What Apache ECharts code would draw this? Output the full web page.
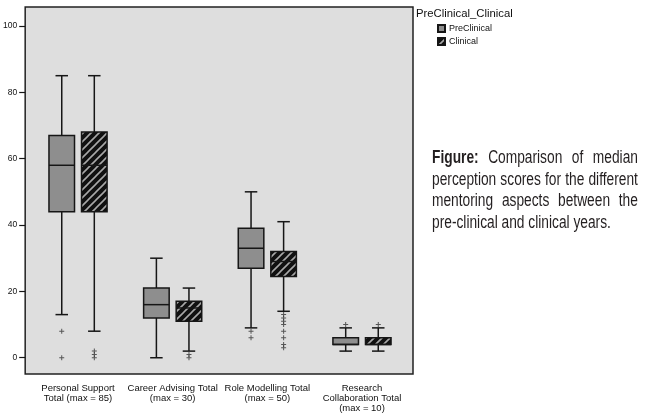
<!DOCTYPE html>
<html>
<head>
<meta charset="utf-8">
<title>Mentoring perception scores</title>
<script src="https://cdn.jsdelivr.net/npm/echarts@6/dist/echarts.min.js"></script>
<style>
html,body{margin:0;padding:0;background:#fff;}
#wrap{position:relative;width:650px;height:418px;overflow:hidden;}
#myChart{width:650px;height:418px;}
/* condensed look: regular face squeezed horizontally */
.caption{position:absolute;left:432px;top:147px;width:262px;transform:scaleX(0.786);transform-origin:0 0;
    font-family:"Liberation Sans",Arial,sans-serif;font-size:17.5px;line-height:21.7px;color:#231f20;}
.caption div{text-align:justify;text-align-last:justify;white-space:nowrap;}
.caption div.last{text-align:left;text-align-last:left;}
</style>
</head>
<body>
<div id="wrap">
    <div id="myChart"></div>
    <div class="caption">
        <div><b>Figure:</b> Comparison of median</div>
        <div>perception scores for the different</div>
        <div>mentoring aspects between the</div>
        <div class="last">pre-clinical and clinical years.</div>
    </div>
</div>
<script>
let categories = [
    'Personal Support\nTotal (max = 85)',
    'Career Advising Total\n(max = 30)',
    'Role Modelling Total\n(max = 50)',
    'Research\nCollaboration Total\n(max = 10)'
]
// [lower whisker, Q1, median, Q3, upper whisker]
let preClinical = [[13, 44, 58, 67, 85], [0, 12, 16, 21, 30], [9, 27, 33, 39, 50], [2, 4, 4, 6, 9]]
let clinical = [[8, 44, 58, 68, 85], [2, 11, 15, 17, 21], [14, 24.5, 29, 32, 41], [2, 4, 4, 6, 9]]
// [category index, value]
let preOutliers = [[0, 8], [0, 0], [2, 8], [2, 6], [3, 10]]
let clinOutliers = [[0, 2], [0, 1], [0, 0], [1, 1], [1, 0],
    [2, 13], [2, 12], [2, 11], [2, 10], [2, 8], [2, 6], [2, 4], [2, 3], [3, 10]]
let yTicks = [0, 20, 40, 60, 80, 100]

let yMin = -4.9, yMax = 105.7
let shift = 0.172 // box offset from category centre, share of band
let ink = '#161616'

// black tile with grey "/" stripes for the Clinical boxes
function hatch() {
    let c = document.createElement('canvas')
    c.width = 8; c.height = 8
    let g = c.getContext('2d')
    g.fillStyle = '#111'
    g.fillRect(0, 0, 8, 8)
    g.strokeStyle = '#a8a8a8'
    g.lineWidth = 1.6
    g.beginPath()
    g.moveTo(0, 8); g.lineTo(8, 0)
    g.moveTo(-2, 2); g.lineTo(2, -2)
    g.moveTo(6, 10); g.lineTo(10, 6)
    g.stroke()
    return c
}
let hatchFill = { image: hatch(), repeat: 'repeat' }

function boxRenderer(dx, fill) {
    return function (params, api) {
        let i = api.value(0)
        let band = api.size([1, 0])[0]
        let p = [1, 2, 3, 4, 5].map(k => api.coord([i, api.value(k)]))
        let cx = p[0][0] + band * dx
        let hw = band * 0.135
        let cw = band * 0.066
        let ln = { stroke: ink, lineWidth: 1.5 }
        return {
            type: 'group',
            children: [
                { type: 'line', shape: { x1: cx, y1: p[0][1], x2: cx, y2: p[1][1] }, style: ln },
                { type: 'line', shape: { x1: cx, y1: p[3][1], x2: cx, y2: p[4][1] }, style: ln },
                { type: 'line', shape: { x1: cx - cw, y1: p[0][1], x2: cx + cw, y2: p[0][1] }, style: ln },
                { type: 'line', shape: { x1: cx - cw, y1: p[4][1], x2: cx + cw, y2: p[4][1] }, style: ln },
                { type: 'rect', shape: { x: cx - hw, y: p[3][1], width: hw * 2, height: p[1][1] - p[3][1] },
                    style: { fill: fill, stroke: ink, lineWidth: 1.5 } },
                { type: 'line', shape: { x1: cx - hw, y1: p[2][1], x2: cx + hw, y2: p[2][1] }, style: ln }
            ]
        }
    }
}

let plus = 'path://M4,0H6V4H10V6H6V10H4V6H0V4H4Z'

var myChart = echarts.init(document.getElementById('myChart'))

var option = {
    animation: false,
    textStyle: { fontFamily: 'Liberation Sans' },
    title: {
        text: 'PreClinical_Clinical',
        left: 416, top: 8, padding: 0,
        textStyle: { fontSize: 11.3, fontWeight: 'normal', color: '#111' }
    },
    legend: {
        data: ['PreClinical', 'Clinical'],
        orient: 'vertical',
        left: 437, top: 24, padding: 0,
        icon: 'rect', itemWidth: 7, itemHeight: 7, itemGap: 4,
        textStyle: { fontSize: 9, color: '#111', padding: [0, 0, 0, -1] }
    },
    grid: [
        // frame with grey background
        { left: 25, top: 7, width: 388, height: 367, show: true,
          backgroundColor: '#dedede', borderColor: '#222', borderWidth: 1.5 },
        // data area
        { left: 30.7, top: 7, width: 378.6, height: 367 }
    ],
    xAxis: [
        { gridIndex: 0, type: 'value', min: 0, max: 1, show: false },
        {
            gridIndex: 1, type: 'category', data: categories,
            axisLine: { show: false },
            axisTick: { alignWithLabel: true, length: 7, lineStyle: { color: ink, width: 1.5 } },
            axisLabel: { interval: 0, fontSize: 9.5, lineHeight: 9.6, margin: 10, color: '#111' }
        }
    ],
    yAxis: [
        {
            gridIndex: 0, type: 'value', min: yMin, max: yMax,
            axisLine: { show: false },
            splitLine: { show: false },
            axisTick: { show: true, customValues: yTicks, length: 6, lineStyle: { color: ink, width: 1.2 } },
            axisLabel: { customValues: yTicks, fontSize: 8.5, margin: 8, color: '#111' }
        },
        { gridIndex: 1, type: 'value', min: yMin, max: yMax, show: false }
    ],
    series: [
        {
            name: 'PreClinical', type: 'custom', xAxisIndex: 1, yAxisIndex: 1,
            itemStyle: { color: '#8e8e8e', borderColor: ink, borderWidth: 1 },
            encode: { x: 0, y: [1, 2, 3, 4, 5] },
            renderItem: boxRenderer(-shift, '#8e8e8e'),
            data: preClinical.map((r, i) => [i].concat(r))
        },
        {
            name: 'Clinical', type: 'custom', xAxisIndex: 1, yAxisIndex: 1,
            itemStyle: { color: hatchFill, borderColor: ink, borderWidth: 1 },
            encode: { x: 0, y: [1, 2, 3, 4, 5] },
            renderItem: boxRenderer(shift, hatchFill),
            data: clinical.map((r, i) => [i].concat(r))
        },
        {
            name: 'PreClinical outliers', type: 'scatter', xAxisIndex: 1, yAxisIndex: 1,
            symbol: plus, symbolSize: 5, symbolOffset: [-16.3, 0], silent: true,
            itemStyle: { color: '#333' },
            data: preOutliers
        },
        {
            name: 'Clinical outliers', type: 'scatter', xAxisIndex: 1, yAxisIndex: 1,
            symbol: plus, symbolSize: 5, symbolOffset: [16.3, 0], silent: true,
            itemStyle: { color: '#333' },
            data: clinOutliers
        }
    ]
}

myChart.setOption(option)
</script>
</body>
</html>
